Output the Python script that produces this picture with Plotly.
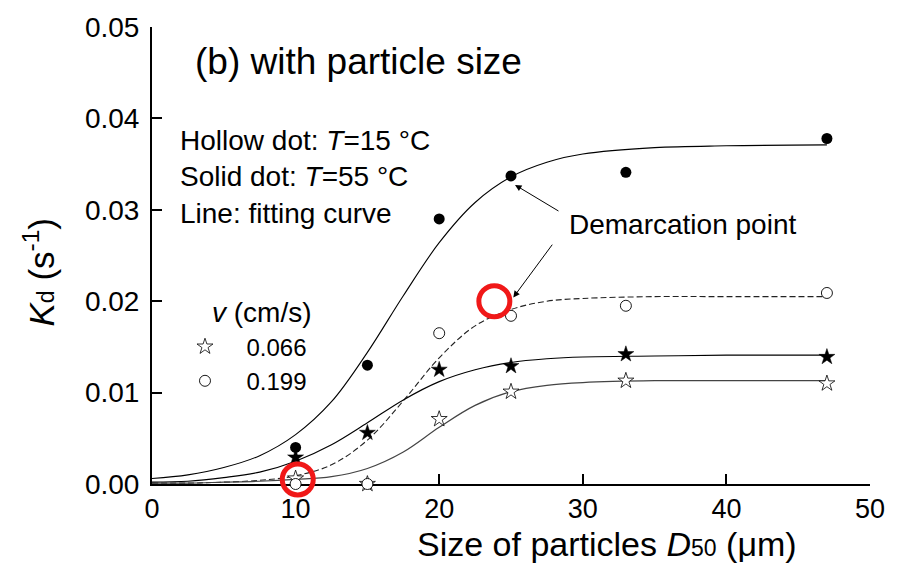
import plotly.graph_objects as go

# ---------------- data ----------------
d50 = [10, 15, 20, 25, 33, 47]

# solid dots: T = 55 °C ; hollow dots: T = 15 °C
kd_circle_55 = [0.0040, 0.0130, 0.0290, 0.0337, 0.0341, 0.0378]   # v = 0.199
kd_circle_15 = [0.0000, 0.0000, 0.0165, 0.0184, 0.0195, 0.0209]   # v = 0.199
kd_star_55 = [0.0029, 0.0056, 0.0125, 0.0129, 0.0142, 0.0139]     # v = 0.066
kd_star_15 = [0.0006, 0.0000, 0.0071, 0.0101, 0.0113, 0.0110]     # v = 0.066

# fitting curves
curve_x = [0, 2.5, 5, 7.5, 10, 12.5, 15, 17.5, 20, 22.5, 25, 27.5, 30, 35, 40, 47]
fit_circle_55 = [0.0006, 0.0010, 0.0018, 0.0031, 0.0054, 0.0090, 0.0144, 0.0206,
                 0.0264, 0.0308, 0.0336, 0.0352, 0.0361, 0.0368, 0.0370, 0.0371]
fit_circle_15 = [0.0001, 0.0001, 0.0002, 0.0004, 0.0009, 0.0021, 0.0048, 0.0091,
                 0.0138, 0.0173, 0.0191, 0.0200, 0.0203, 0.0205, 0.0205, 0.0205]
fit_star_55 = [0.0002, 0.0003, 0.0007, 0.0013, 0.0025, 0.0043, 0.0067, 0.0092,
               0.0112, 0.0125, 0.0133, 0.0137, 0.0139, 0.0140, 0.0141, 0.0141]
fit_star_15 = [0.0001, 0.0001, 0.0002, 0.0003, 0.0005, 0.0008, 0.0017, 0.0035,
               0.0062, 0.0086, 0.0101, 0.0108, 0.0111, 0.0113, 0.0113, 0.0113]

# highlighted points (red rings)
ring_x = [10.15, 23.84]
ring_y = [0.0005, 0.0200]

legend_labels = ["0.066", "0.199"]
x_ticks = [0, 10, 20, 30, 40, 50]
y_ticks = [0.00, 0.01, 0.02, 0.03, 0.04, 0.05]

FONT = "Liberation Sans, Arial, sans-serif"

fig = go.Figure()

# fitting curves
fig.add_trace(go.Scatter(x=curve_x, y=fit_circle_55, mode="lines", showlegend=False,
                         line=dict(color="black", width=1.1, shape="spline")))
fig.add_trace(go.Scatter(x=curve_x, y=fit_circle_15, mode="lines", showlegend=False,
                         line=dict(color="#222", width=1.1, shape="spline", dash="6px,3px")))
fig.add_trace(go.Scatter(x=curve_x, y=fit_star_55, mode="lines", showlegend=False,
                         line=dict(color="black", width=1.1, shape="spline")))
fig.add_trace(go.Scatter(x=curve_x, y=fit_star_15, mode="lines", showlegend=False,
                         line=dict(color="#444", width=1.2, shape="spline")))

# data points
fig.add_trace(go.Scatter(x=d50, y=kd_star_15, mode="markers", name=legend_labels[0],
                         cliponaxis=False,
                         marker=dict(symbol="star", size=12, color="white",
                                     line=dict(color="black", width=0.8))))
fig.add_trace(go.Scatter(x=d50, y=kd_circle_15, mode="markers", name=legend_labels[1],
                         cliponaxis=False,
                         marker=dict(symbol="circle", size=11, color="white",
                                     line=dict(color="black", width=0.9))))
fig.add_trace(go.Scatter(x=d50, y=kd_star_55, mode="markers", showlegend=False,
                         cliponaxis=False,
                         marker=dict(symbol="star", size=12, color="black",
                                     line=dict(color="black", width=0.5))))
fig.add_trace(go.Scatter(x=d50, y=kd_circle_55, mode="markers", showlegend=False,
                         cliponaxis=False,
                         marker=dict(symbol="circle", size=11, color="black")))

# red rings
fig.add_trace(go.Scatter(x=ring_x, y=ring_y, mode="markers", showlegend=False,
                         cliponaxis=False,
                         marker=dict(symbol="circle", size=31, color="rgba(0,0,0,0)",
                                     line=dict(color="#f01818", width=5))))

axis_common = dict(showline=True, linecolor="black", linewidth=2, ticks="inside",
                   ticklen=10, tickwidth=1.5, tickcolor="black", showgrid=False,
                   zeroline=False, layer="below traces")

fig.update_xaxes(range=[0, 50], tickvals=x_ticks, ticklabelstandoff=0,
                 tickfont=dict(family=FONT, size=27, color="black"), **axis_common)
fig.update_yaxes(range=[0, 0.05], tickvals=y_ticks, tickformat=".2f",
                 ticklabelstandoff=5,
                 tickfont=dict(family=FONT, size=28, color="black"), **axis_common)

annotations = [
    dict(text="(b) with particle size", x=0.0571, y=0.924, xref="paper", yref="paper",
         xanchor="left", yanchor="middle", showarrow=False, font=dict(size=37)),
    dict(text="Hollow dot: <i>T</i>=15 °C<br>Solid dot: <i>T</i>=55 °C<br>Line: fitting curve",
         x=0.0369, y=0.672, xref="paper", yref="paper", align="left",
         xanchor="left", yanchor="middle", showarrow=False, font=dict(size=28)),
    dict(text="Demarcation point", x=0.7386, y=0.568, xref="paper", yref="paper",
         xanchor="center", yanchor="middle", showarrow=False, font=dict(size=28)),
    dict(text="<i>v</i> (cm/s)", x=0.0808, y=0.376, xref="paper", yref="paper",
         xanchor="left", yanchor="middle", showarrow=False, font=dict(size=28)),
    dict(text="<i>K</i><span style='font-size:23px'>d</span> (s<sup>-1</sup>)",
         x=-0.156, y=0.465, xref="paper", yref="paper", textangle=-90,
         xanchor="center", yanchor="middle", showarrow=False, font=dict(size=35)),
    dict(text="Size of particles <i>D</i><span style='font-size:23px'>50</span> (μm)",
         x=0.6337, y=-0.131, xref="paper", yref="paper",
         xanchor="center", yanchor="middle", showarrow=False, font=dict(size=34)),
    # arrows
    dict(text="", x=25.28, y=0.03272, ax=28.41, ay=0.02977, xref="x", yref="y",
         axref="x", ayref="y", showarrow=True, arrowhead=2, arrowsize=1.3,
         arrowwidth=1, arrowcolor="black", standoff=0),
    dict(text="", x=25.16, y=0.02041, ax=27.95, ay=0.02635, xref="x", yref="y",
         axref="x", ayref="y", showarrow=True, arrowhead=2, arrowsize=1.3,
         arrowwidth=1, arrowcolor="black", standoff=0),
]
for a in annotations:
    a.setdefault("font", {})
    a["font"].setdefault("family", FONT)
    a["font"].setdefault("color", "black")

fig.update_layout(
    width=899, height=567,
    margin=dict(l=152, r=29, t=21, b=83, pad=0),
    paper_bgcolor="white", plot_bgcolor="white",
    font=dict(family=FONT, color="black"),
    annotations=annotations,
    showlegend=True,
    legend=dict(x=0.016, y=0.349, xanchor="left", yanchor="top",
                bgcolor="rgba(0,0,0,0)", borderwidth=0, itemwidth=73,
                font=dict(family=FONT, size=24, color="black"),
                tracegroupgap=0),
)

fig.write_html("out.html")
